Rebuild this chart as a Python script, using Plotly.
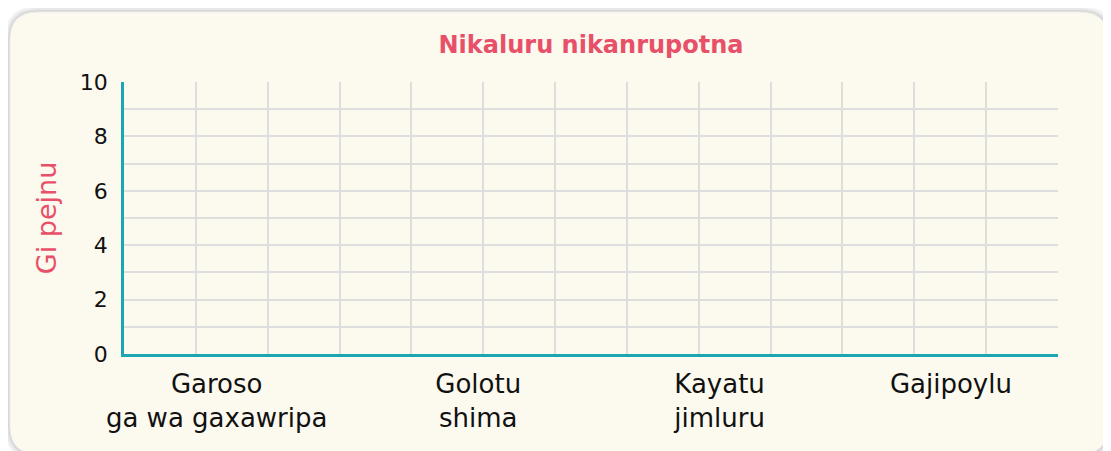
import plotly.graph_objects as go

# chart data
categories = ["Garoso<br>ga wa gaxawripa", "Golotu<br>shima", "Kayatu<br>jimluru", "Gajipoylu"]
values = [0, 0, 0, 0]
y_ticks = [0, 2, 4, 6, 8, 10]

# layout helpers (page body adds an 8px offset)
W, H = 1103, 443
L, R, T, B = 116, 53, 74, 97
label_pos = [1.29, 4.93, 8.29, 11.51]
PINK = "#E8506A"
TEAL = "#1AA6B2"
GRID = "#DEDEDE"
FONT = "DejaVu Sans"


def to_paper(x, y):
    return (x - L) / (W - L - R), (H - B - y) / (H - T - B)


def rounded_rect(x0, y0, x1, y1, r):
    pts = [("M", [(x0 + r, y0)]), ("L", [(x1 - r, y0)]), ("Q", [(x1, y0), (x1, y0 + r)]),
           ("L", [(x1, y1 - r)]), ("Q", [(x1, y1), (x1 - r, y1)]), ("L", [(x0 + r, y1)]),
           ("Q", [(x0, y1), (x0, y1 - r)]), ("L", [(x0, y0 + r)]), ("Q", [(x0, y0), (x0 + r, y0)])]
    path = ""
    for cmd, coords in pts:
        path += cmd + " " + " ".join("%.5f,%.5f" % to_paper(*c) for c in coords) + " "
    return path + "Z"


fig = go.Figure()
fig.add_trace(go.Bar(x=label_pos, y=values, marker=dict(color=TEAL, line=dict(width=0)),
                     hoverinfo="skip", showlegend=False))

shapes = []
# soft shadow
for i, op in enumerate([0.04, 0.05, 0.07]):
    d = 6 - 2 * i
    shapes.append(dict(type="path", xref="paper", yref="paper", layer="below",
                       path=rounded_rect(2 - d, 4 - d, 1100 + d, 446 + d, 28 + d),
                       fillcolor="rgba(0,0,0,%.2f)" % op, line=dict(width=0)))
# card
shapes.append(dict(type="path", xref="paper", yref="paper", layer="below",
                   path=rounded_rect(2, 4, 1100, 446, 28),
                   fillcolor="#FCFAEE", line=dict(color="#ECECEC", width=1)))

fig.update_layout(
    width=W, height=H,
    margin=dict(l=L, r=R, t=T, b=B),
    paper_bgcolor="white",
    plot_bgcolor="white",
    shapes=shapes,
    font=dict(family=FONT, color="#111111"),
    title=dict(text="<b>Nikaluru nikanrupotna</b>", x=0.5, xref="paper",
               yref="container", yanchor="middle",
               font=dict(family=FONT, size=24, color=PINK)),
    bargap=0.5,
)
fig.layout.title.y = 1 - 37 / H

fig.update_xaxes(
    range=[0, 13], tickmode="array", tickvals=label_pos, ticktext=categories,
    showgrid=False, zeroline=False, ticks="", ticklabelstandoff=5,
    tickfont=dict(size=26, color="#111111"),
    showline=True, linecolor=TEAL, linewidth=2.5,
    minor=dict(tickmode="linear", tick0=0, dtick=1, showgrid=True, gridcolor=GRID, gridwidth=1.5),
)
fig.update_yaxes(
    range=[0, 10], tickmode="array", tickvals=y_ticks,
    showgrid=True, gridcolor=GRID, gridwidth=1.5, zeroline=False,
    ticks="", ticklabelstandoff=9, tickfont=dict(size=22, color="#111111"),
    showline=True, linecolor=TEAL, linewidth=2.5,
    minor=dict(tickmode="linear", tick0=0, dtick=1, showgrid=True, gridcolor=GRID, gridwidth=1.5),
    title=dict(text="Gi pejnu", font=dict(family=FONT, size=27, color=PINK), standoff=16),
)

fig.write_html("out.html")
